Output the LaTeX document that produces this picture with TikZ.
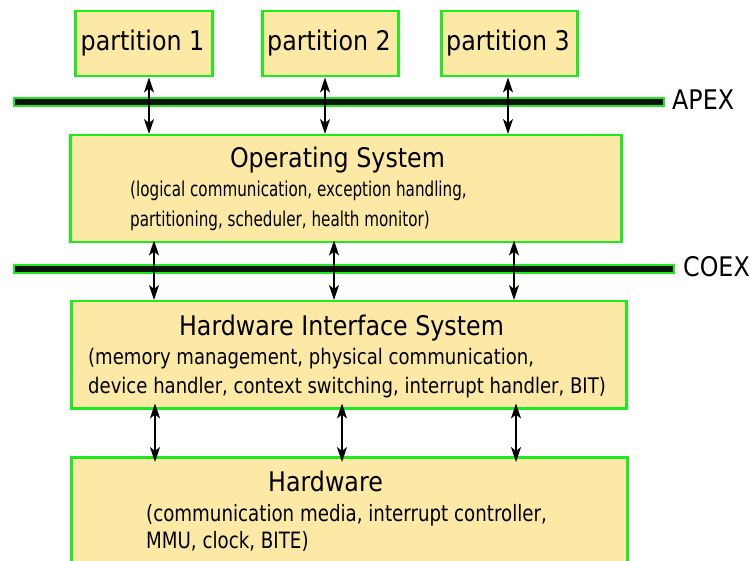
\documentclass[tikz,border=0pt]{standalone}
\usepackage{fontspec}
\setmainfont{DejaVu Sans}[FakeStretch=0.88]
\newfontfamily\osfont{DejaVu Sans}[FakeStretch=0.74]
\newfontfamily\hisfont{DejaVu Sans}[FakeStretch=0.84]
\newfontfamily\hwfont{DejaVu Sans}[FakeStretch=0.81]
\usetikzlibrary{arrows.meta}
\definecolor{boxfill}{HTML}{FCE9A5}
\definecolor{boxline}{HTML}{1EEB1E}
\definecolor{barfill}{HTML}{0A140A}
\begin{document}
\begin{tikzpicture}[x=1pt,y=-1pt,
  box/.style={draw=boxline,line width=2.5pt,fill=boxfill,inner sep=0pt,anchor=north west},
  bar/.style={draw=boxline,line width=1.6pt,fill=barfill,inner sep=0pt,anchor=north west},
  dbl/.style={{Stealth[length=15pt,width=10pt,inset=4pt]}-{Stealth[length=15pt,width=10pt,inset=4pt]},line width=1.3pt},
  title/.style={font=\fontsize{27}{30}\selectfont,inner sep=0pt,anchor=base},
  osdesc/.style={font=\osfont\fontsize{20.5}{24}\selectfont,inner sep=0pt,anchor=base west},
  hisdesc/.style={font=\hisfont\fontsize{21.5}{24}\selectfont,inner sep=0pt,anchor=base west},
  hwdesc/.style={font=\hwfont\fontsize{22.5}{24}\selectfont,inner sep=0pt,anchor=base west}]
\useasboundingbox (0,0) rectangle (750,561);
\clip (0,0) rectangle (750,561);
% partitions
\node[box,minimum width=137pt,minimum height=65pt] (p1) at (74,10) {};
\node[box,minimum width=136pt,minimum height=65pt] (p2) at (261,10) {};
\node[box,minimum width=136pt,minimum height=65pt] (p3) at (440,10) {};
\node[title] (p1t) at (142.5,51) {partition 1};
\node[title] (p2t) at (329,51) {partition 2};
\node[title] (p3t) at (508,51) {partition 3};
% APEX bar
\node[bar,minimum width=650pt,minimum height=8pt] (apex) at (13,97) {};
\node[title,anchor=base west] (apexl) at (672,109.5) {APEX};
% Operating system
\node[box,minimum width=551pt,minimum height=107pt] (os) at (69,134) {};
\node[title] (ost) at (337.5,168) {Operating System};
\node[osdesc] (osd1) at (130,197) {(logical communication, exception handling,};
\node[osdesc] (osd2) at (130,227) {partitioning, scheduler, health monitor)};
% COEX bar
\node[bar,minimum width=660pt,minimum height=8pt] (coex) at (13,264.2) {};
\node[title,anchor=base west] (coexl) at (683,277) {COEX};
% Hardware interface system
\node[box,minimum width=555pt,minimum height=107pt] (his) at (70,300) {};
\node[title] (hist) at (341.5,335.5) {Hardware Interface System};
\node[hisdesc] (hisd1) at (88,365) {(memory management, physical communication,};
\node[hisdesc] (hisd2) at (88,394) {device handler, context switching, interrupt handler, BIT)};
% Hardware
\node[box,minimum width=556pt,minimum height=130pt] (hw) at (70,456) {};
\node[title] (hwt) at (325.5,491) {Hardware};
\node[hwdesc] (hwd1) at (146,521) {(communication media, interrupt controller,};
\node[hwdesc] (hwd2) at (146,548) {MMU, clock, BITE)};
% arrow columns
\coordinate (a1) at (149,0);
\coordinate (a2) at (325,0);
\coordinate (a3) at (508,0);
\coordinate (b1) at (154,0);
\coordinate (b2) at (334,0);
\coordinate (b3) at (514,0);
\coordinate (c1) at (155,0);
\coordinate (c2) at (342,0);
\coordinate (c3) at (516,0);
\draw[dbl] (p1.south -| a1) -- (os.north -| a1);
\draw[dbl] (p2.south -| a2) -- (os.north -| a2);
\draw[dbl] (p3.south -| a3) -- (os.north -| a3);
\draw[dbl,shorten <=-3pt] (os.south -| b1) -- (his.north -| b1);
\draw[dbl,shorten <=-3pt] (os.south -| b2) -- (his.north -| b2);
\draw[dbl,shorten <=-3pt] (os.south -| b3) -- (his.north -| b3);
\draw[dbl,shorten <=-6pt,shorten >=-6pt] (his.south -| c1) -- (hw.north -| c1);
\draw[dbl,shorten <=-6pt,shorten >=-6pt] (his.south -| c2) -- (hw.north -| c2);
\draw[dbl,shorten <=-6pt,shorten >=-6pt] (his.south -| c3) -- (hw.north -| c3);
\end{tikzpicture}
\end{document}
